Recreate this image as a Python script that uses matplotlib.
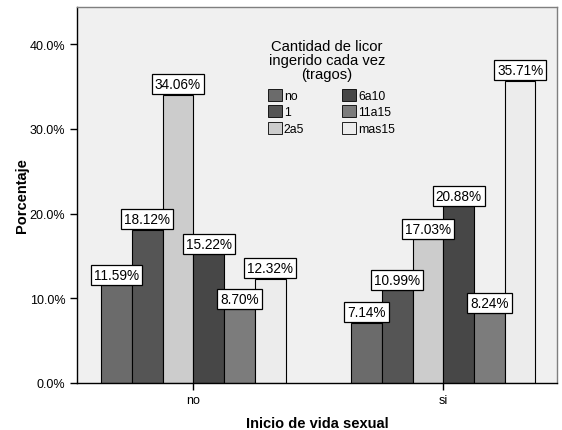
import numpy as np
import matplotlib
matplotlib.use("Agg")
import matplotlib.pyplot as plt
from matplotlib.ticker import FuncFormatter

plt.rcParams["font.family"] = ["Liberation Sans", "DejaVu Sans"]

# ==================================
# DATA
# ==================================

groups = ["no", "si"]
series = ["no", "1", "2a5", "6a10", "11a15", "mas15"]
pct_no = [11.59, 18.12, 34.06, 15.22, 8.70, 12.32]
pct_si = [7.14, 10.99, 17.03, 20.88, 8.24, 35.71]

colors = ["#6b6b6b", "#555555", "#cccccc", "#474747", "#7c7c7c", "#ececec"]

values = np.array([pct_no, pct_si])

# ==================================
# FIGURE
# ==================================

fig = plt.figure(figsize=(5.62, 4.31), dpi=100)
ax = fig.add_axes([77 / 562, 47 / 431, 480 / 562, 376 / 431])
ax.set_facecolor("#f0f0f0")

x = np.arange(len(groups))
width = 0.123
n = len(series)

for i, name in enumerate(series):
    pos = x + (i - (n - 1) / 2) * width
    bars = ax.bar(
        pos,
        values[:, i],
        width,
        color=colors[i],
        edgecolor="black",
        linewidth=0.8,
        label=name,
        zorder=2
    )
    for b, v in zip(bars, values[:, i]):
        ax.annotate(
            f"{v:.2f}%",
            (b.get_x() + b.get_width() / 2, v),
            xytext=(0, 2.3),
            textcoords="offset points",
            ha="center",
            va="bottom",
            fontsize=9.8,
            zorder=4,
            bbox=dict(
                boxstyle="square,pad=0.22",
                facecolor="white",
                edgecolor="black",
                linewidth=0.9
            )
        )

ax.set_xlim(-0.465, 1.455)
ax.set_ylim(0, 44.4)
ax.set_yticks([0, 10, 20, 30, 40])
ax.yaxis.set_major_formatter(FuncFormatter(lambda v, p: f"{v:.1f}%"))
ax.set_xticks(x)
ax.set_xticklabels(groups)

ax.tick_params(axis="both", direction="out", length=5, width=1,
               labelsize=9, colors="black")
ax.tick_params(axis="x", pad=3)

for side in ["top", "right"]:
    ax.spines[side].set_color("#7f7f7f")
for side in ["left", "bottom"]:
    ax.spines[side].set_color("black")
for s in ax.spines.values():
    s.set_linewidth(1)
    s.set_zorder(3)

ax.set_xlabel("Inicio de vida sexual", fontsize=10.5, fontweight="bold",
              labelpad=7)
ax.set_ylabel("Porcentaje", fontsize=10.5, fontweight="bold", labelpad=0.5)

# legend title drawn as its own text
ax.text(
    (327 - 77) / 480,
    (384 - 40) / 376,
    "Cantidad de licor\ningerido cada vez\n(tragos)",
    transform=ax.transAxes,
    ha="center",
    va="top",
    fontsize=10.6,
    linespacing=1.0,
    multialignment="center"
)

leg = ax.legend(
    ncol=2,
    loc="upper left",
    bbox_to_anchor=((268 - 77) / 480, (384 - 90) / 376),
    frameon=False,
    fontsize=8.8,
    handlelength=1.15,
    handleheight=1.15,
    handletextpad=0.15,
    columnspacing=3.1,
    labelspacing=0.25,
    borderpad=0,
    borderaxespad=0
)
for h in leg.legend_handles:
    h.set_edgecolor("black")
    h.set_linewidth(0.6)

fig.savefig("out.png", dpi=100)
